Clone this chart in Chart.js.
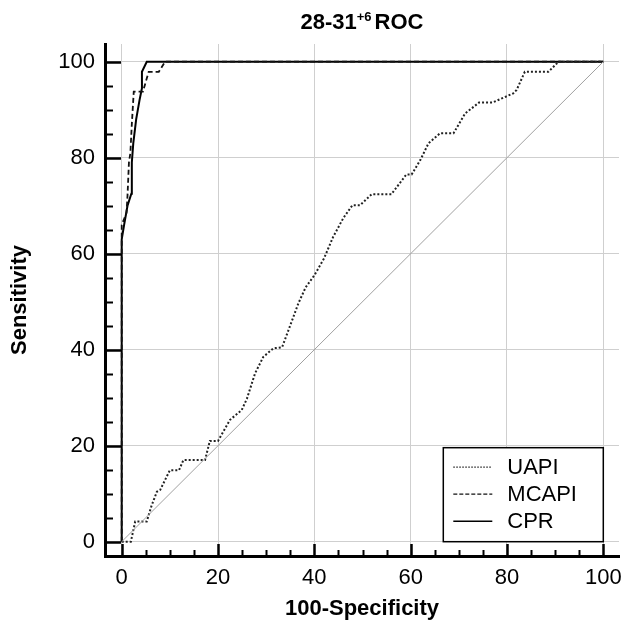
<!DOCTYPE html>
<html><head><meta charset="utf-8">
<script src="https://cdn.jsdelivr.net/npm/chart.js@4.4.0/dist/chart.umd.min.js"></script>
<style>html,body{margin:0;padding:0;background:#fff}canvas{display:block}</style>
</head><body>
<canvas id="c" width="624" height="623"></canvas>
<script>
// ---- data ----
const majorTicks = [0, 20, 40, 60, 80, 100];
const minorTicks = [5, 10, 15, 25, 30, 35, 45, 50, 55, 65, 70, 75, 85, 90, 95];
const seriesNames = ['UAPI', 'MCAPI', 'CPR'];

const diagX = [0, 100];
const diagY = [0, 100];

const uapiX = [0, 1.9, 2.8, 5.2, 6.2, 7.3, 8.0, 10.0, 11.9, 12.8, 17.3, 18.3, 20.0, 22.5, 24.9, 26.0, 27.7, 29.4, 31.5, 33.3, 34.9, 36.7, 38.2, 40.0, 42.0, 43.9, 46.0, 47.9, 49.5, 51.9, 56.0, 59.1, 60.2, 62.0, 63.7, 66.1, 68.9, 71.3, 74.2, 77.0, 81.3, 82.0, 83.7, 88.6, 90.7, 100];
const uapiY = [0, 0, 4.2, 4.2, 7.5, 10.4, 10.8, 14.9, 14.9, 17.0, 17.0, 21.0, 21.0, 25.4, 27.4, 29.8, 35.1, 38.5, 40.3, 40.5, 44.8, 49.7, 53.0, 55.5, 59.0, 63.5, 67.4, 70.1, 70.1, 72.4, 72.4, 76.5, 76.5, 79.5, 83.0, 85.1, 85.1, 89.2, 91.5, 91.5, 93.4, 94.1, 97.9, 97.9, 100, 100];

const mcapiX = [0, 0, 1.0, 1.2, 1.5, 1.8, 2.1, 2.5, 4.4, 5.6, 7.7, 9.0, 100];
const mcapiY = [0, 66, 68.5, 72, 79, 81, 87, 93.75, 93.75, 97.9, 97.9, 100, 100];

const cprX = [0, 0, 0.5, 1.2, 2.0, 2.1, 2.4, 3.0, 3.7, 4.2, 4.2, 5.2, 100];
const cprY = [0, 63, 66, 70, 72.5, 79, 83, 88, 92, 94.5, 97.9, 100, 100];

const FONT = '"Liberation Sans", Arial, Helvetica, sans-serif';
const pts = (xs, ys) => xs.map((x, i) => ({x: x, y: ys[i]}));

const styles = {
  UAPI: {color: '#222', width: 2, dash: [2, 2], lDash: [1.5, 1.5], lWidth: 1.2},
  MCAPI: {color: '#111', width: 1.8, dash: [5, 3], lDash: [4, 2], lWidth: 1.3},
  CPR: {color: '#000', width: 2, dash: [], lDash: [], lWidth: 1.6}
};

const titlePlugin = {
  id: 'titleSup',
  afterDraw(chart) {
    const ctx = chart.ctx, ca = chart.chartArea;
    ctx.save();
    ctx.fillStyle = '#000';
    ctx.textBaseline = 'alphabetic';
    const p1 = '28-31', p2 = '+6', p3 = 'ROC';
    ctx.font = 'bold 22px ' + FONT;
    const w1 = ctx.measureText(p1).width, w3 = ctx.measureText(p3).width;
    ctx.font = 'bold 13px ' + FONT;
    const w2 = ctx.measureText(p2).width;
    const gap = 3;
    const total = w1 + w2 + gap + w3;
    let x = (ca.left + ca.right) / 2 - total / 2;
    const base = 29;
    ctx.font = 'bold 22px ' + FONT; ctx.fillText(p1, x, base); x += w1;
    ctx.font = 'bold 13px ' + FONT; ctx.fillText(p2, x, base - 8); x += w2 + gap;
    ctx.font = 'bold 22px ' + FONT; ctx.fillText(p3, x, base);
    ctx.restore();
  }
};

const ticksPlugin = {
  id: 'inwardTicks',
  afterDraw(chart) {
    const ctx = chart.ctx, ca = chart.chartArea;
    const xs = chart.scales.x, ys = chart.scales.y;
    ctx.save();
    ctx.strokeStyle = '#000';
    const draw = (vals, major) => {
      ctx.lineWidth = major ? 2.5 : 2;
      vals.forEach(v => {
        const px = Math.round(xs.getPixelForValue(v)) + 0.5;
        ctx.beginPath(); ctx.moveTo(px, ca.bottom); ctx.lineTo(px, ca.bottom - (major ? 12 : 6)); ctx.stroke();
        const py = Math.round(ys.getPixelForValue(v)) + 0.5;
        ctx.beginPath(); ctx.moveTo(ca.left, py); ctx.lineTo(ca.left + (major ? 16 : 8), py); ctx.stroke();
      });
    };
    draw(minorTicks, false);
    draw(majorTicks, true);
    ctx.restore();
  }
};

const legendPlugin = {
  id: 'boxLegend',
  afterDraw(chart) {
    const ctx = chart.ctx;
    const right = chart.scales.x.getPixelForValue(100);
    const bottom = chart.scales.y.getPixelForValue(0);
    const left = right - 160, top = bottom - 94;
    ctx.save();
    ctx.fillStyle = '#fff';
    ctx.fillRect(left, top, right - left, bottom - top);
    ctx.strokeStyle = '#000'; ctx.lineWidth = 1.5; ctx.setLineDash([]);
    ctx.strokeRect(left, top, right - left, bottom - top);
    ctx.font = '22px ' + FONT; ctx.textBaseline = 'middle'; ctx.fillStyle = '#000';
    seriesNames.forEach((n, i) => {
      const y = top + 19 + i * 27;
      const s = styles[n];
      ctx.strokeStyle = s.color; ctx.lineWidth = s.lWidth; ctx.setLineDash(s.lDash);
      ctx.beginPath(); ctx.moveTo(left + 10, y + 0.5); ctx.lineTo(left + 49, y + 0.5); ctx.stroke();
      ctx.setLineDash([]);
      ctx.fillText(n, left + 64, y + 1);
    });
    ctx.restore();
  }
};

const ds = (label, xs, ys, color, width, dash) => ({
  label: label, data: pts(xs, ys), showLine: true, borderColor: color, borderWidth: width,
  borderDash: dash, pointRadius: 0, fill: false, tension: 0
});

new Chart(document.getElementById('c'), {
  type: 'scatter',
  data: {
    datasets: [
      ds('ref', diagX, diagY, '#a0a0a0', 1, []),
      ds('UAPI', uapiX, uapiY, styles.UAPI.color, styles.UAPI.width, styles.UAPI.dash),
      ds('MCAPI', mcapiX, mcapiY, styles.MCAPI.color, styles.MCAPI.width, styles.MCAPI.dash),
      ds('CPR', cprX, cprY, styles.CPR.color, styles.CPR.width, styles.CPR.dash)
    ]
  },
  options: {
    responsive: false, animation: false, devicePixelRatio: 1,
    layout: {padding: {top: 44, right: 5, left: 0, bottom: 0}},
    plugins: {legend: {display: false}, title: {display: false}, tooltip: {enabled: false}},
    scales: {
      x: {
        type: 'linear', min: -3.47, max: 103.26,
        afterBuildTicks: s => { s.ticks = majorTicks.map(v => ({value: v})); },
        afterFit: s => { s.height = 67; s.paddingLeft = 0; s.paddingRight = 0; },
        grid: {color: '#cfcfcf', lineWidth: 1, drawTicks: false},
        border: {display: true, color: '#000', width: 3},
        ticks: {color: '#000', font: {family: FONT, size: 22}, padding: 9, maxRotation: 0, autoSkip: false, callback: v => String(v)},
        title: {display: true, text: '100-Specificity', color: '#000', font: {family: FONT, size: 22, weight: 'bold'}, padding: {top: 0, bottom: 1}}
      },
      y: {
        type: 'linear', min: -2.98, max: 103.69,
        afterBuildTicks: s => { s.ticks = majorTicks.map(v => ({value: v})); },
        afterFit: s => { s.width = 105; s.paddingTop = 0; s.paddingBottom = 0; },
        grid: {color: '#cfcfcf', lineWidth: 1, drawTicks: false},
        border: {display: true, color: '#000', width: 3},
        ticks: {color: '#000', font: {family: FONT, size: 22}, padding: 10, autoSkip: false, callback: v => String(v)},
        title: {display: true, text: 'Sensitivity', color: '#000', font: {family: FONT, size: 22, weight: 'bold'}, padding: {top: 7, bottom: 0}}
      }
    }
  },
  plugins: [titlePlugin, ticksPlugin, legendPlugin]
});
</script>
</body></html>
